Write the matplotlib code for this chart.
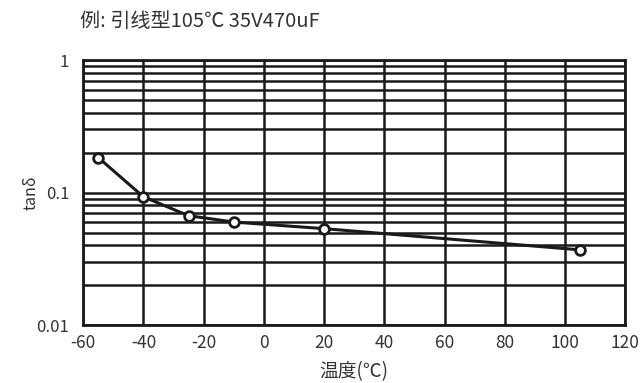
import matplotlib.pyplot as plt
from matplotlib.ticker import FixedLocator, NullFormatter
import numpy as np

plt.rcParams['font.family'] = ['Noto Sans CJK SC', 'DejaVu Sans']

# tan delta vs temperature
temps = [-55, -40, -25, -10, 20, 105]
tand = [0.184, 0.093, 0.067, 0.060, 0.0535, 0.037]

x_ticks = list(range(-60, 121, 20))
y_ticks = [0.01, 0.1, 1]
y_labels = ['0.01', '0.1', '1']

fig = plt.figure(figsize=(6.4, 3.83), dpi=100)
ax = fig.add_axes([0.130, 0.151, 0.847, 0.692])

ax.set_yscale('log')
ax.set_xlim(-60, 120)
ax.set_ylim(0.01, 1)

ax.set_xticks(x_ticks)
ax.set_xticklabels([str(t) for t in x_ticks], fontsize=12.5, color='#333333')
ax.set_yticks(y_ticks)
ax.set_yticklabels(y_labels, fontsize=12, color='#333333')
minor = [m * d for d in (0.01, 0.1) for m in range(2, 10)]
ax.yaxis.set_minor_locator(FixedLocator(minor))
ax.yaxis.set_minor_formatter(NullFormatter())
ax.tick_params(which='both', length=0)
ax.tick_params(axis='x', pad=6)
ax.tick_params(axis='y', pad=10)

ax.grid(True, which='major', axis='both', color='#1a1a1a', lw=1.8)
ax.grid(True, which='minor', axis='y', color='#1a1a1a', lw=1.8)
for s in ax.spines.values():
    s.set_linewidth(2)
    s.set_color('#1a1a1a')

ax.plot(temps, tand, color='#1a1a1a', lw=2.2, zorder=5,
        marker='o', ms=7, mfc='white', mec='#1a1a1a', mew=2, clip_on=False)

ax.set_xlabel('温度(℃)', fontsize=13.5, color='#333333')
ax.xaxis.set_label_coords(0.5, -0.135)
ax.set_ylabel('tanδ', fontsize=11.5, color='#333333')
ax.yaxis.set_label_coords(-0.08, 0.5)
fig.text(0.125, 0.945, '例: 引线型105℃ 35V470uF', fontsize=14.5, color='#333333',
         va='center', ha='left')

fig.savefig('out.png', dpi=100)
